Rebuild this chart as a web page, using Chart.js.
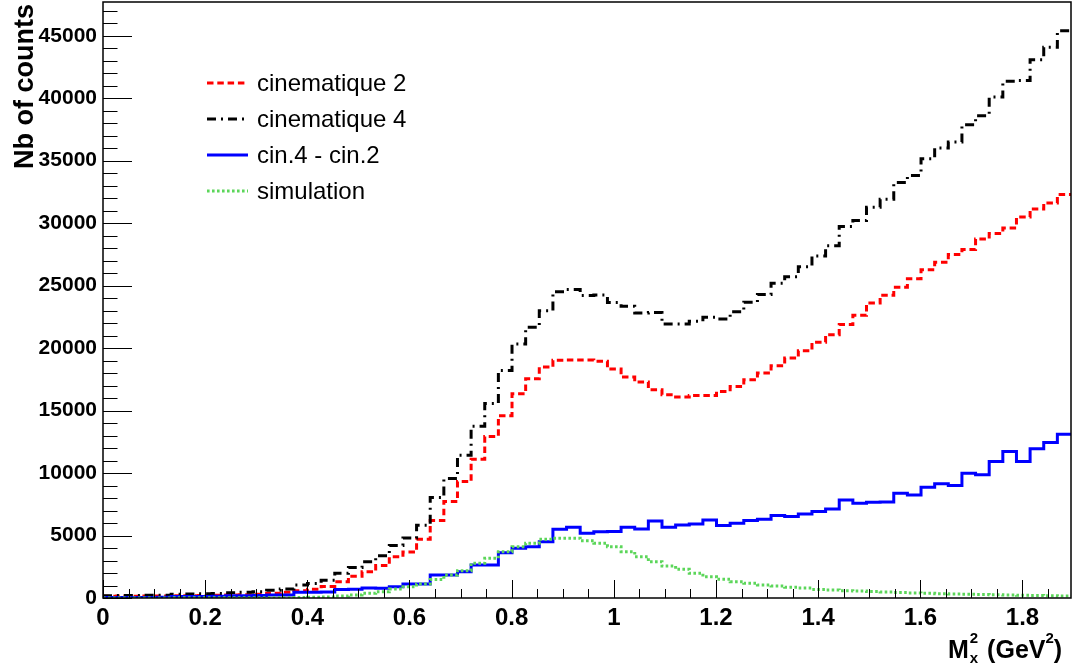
<!DOCTYPE html>
<html>
<head>
<meta charset="utf-8">
<script src="https://cdn.jsdelivr.net/npm/chart.js@4.4.0/dist/chart.umd.min.js"></script>
<style>
  html, body { margin: 0; padding: 0; background: #fff; }
</style>
</head>
<body>
<canvas id="chart" width="1076" height="670"></canvas>
<script>
// histogram binning (71 bins over the visible range)
const xMin = 0;
const xMax = 1.895;
const nBins = 71;
const yMax = 47700;

const xTicks = [0, 0.2, 0.4, 0.6, 0.8, 1, 1.2, 1.4, 1.6, 1.8];
const yTicks = [0, 5000, 10000, 15000, 20000, 25000, 30000, 35000, 40000, 45000];

const legendLabels = ['cinematique 2', 'cinematique 4', 'cin.4 - cin.2', 'simulation'];

// bin contents
const cin2 = [150, 160, 150, 170, 160, 180, 190, 210, 220, 240, 270, 300, 380, 470, 580, 700, 930, 1300, 1750, 2100,
    2600, 3300, 3690, 4700, 6200, 7720, 9320, 11110, 12930, 14580, 16350, 17550, 18480, 19020, 19040, 19040, 18940, 18320,
    17680, 17280, 16670, 16270, 16080, 16210, 16210, 16530, 16930, 17470, 18000, 18590, 19200, 19790, 20460, 21060, 21880,
    22620, 23610, 24230, 24870, 25560, 26280, 26870, 27490, 27890, 28740, 29170, 29620, 30500, 31140, 31620, 32290];

const cin4 = [190, 200, 200, 220, 220, 300, 320, 340, 360, 420, 460, 500, 620, 720, 1040, 1170, 1420, 1990, 2450, 2900,
    3390, 4210, 4810, 5820, 8040, 9560, 11430, 13750, 15570, 18210, 20330, 21660, 22990, 24520, 24700, 24220, 24250, 23640,
    23340, 22810, 22840, 21930, 21930, 22140, 22460, 22330, 22910, 23670, 24300, 25190, 25720, 26520, 27380, 28190, 29730,
    30210, 31270, 31920, 33260, 33810, 35150, 36010, 36490, 37880, 38600, 40090, 41350, 41420, 43080, 44070, 45400];

const diff = [40, 40, 50, 50, 60, 120, 130, 130, 140, 180, 190, 200, 240, 250, 460, 470, 490, 690, 700, 800,
    790, 910, 1120, 1120, 1840, 1840, 2110, 2640, 2640, 3630, 3980, 4110, 4510, 5500, 5660, 5180, 5310, 5320,
    5660, 5530, 6170, 5660, 5850, 5930, 6250, 5800, 5980, 6200, 6300, 6600, 6520, 6730, 6920, 7130, 7850,
    7590, 7660, 7690, 8390, 8250, 8870, 9140, 9000, 9990, 9860, 10920, 11730, 10920, 11940, 12450, 13110];

const simu = [10, 10, 10, 10, 10, 15, 15, 15, 20, 20, 25, 25, 30, 30, 40, 60, 90, 160, 250, 380,
    500, 720, 900, 1120, 1480, 1840, 2190, 2780, 3180, 3710, 4110, 4380, 4700, 4780, 4780, 4590, 4380, 4110,
    3710, 3310, 2910, 2560, 2300, 1980, 1710, 1500, 1310, 1180, 1040, 960, 860, 800, 690, 640, 590,
    560, 520, 480, 440, 410, 380, 350, 320, 300, 280, 260, 240, 220, 200, 190, 170];

const FONT = '"Liberation Sans", Arial, sans-serif';

function histPoints(values) {
    const w = (xMax - xMin) / nBins;
    const pts = values.map((v, i) => ({ x: xMin + i * w, y: v }));
    pts.push({ x: xMax, y: values[values.length - 1] });
    return pts;
}

// frame + inward ticks, ROOT style
const frameTicks = {
    id: 'frameTicks',
    afterDraw(chart) {
        const { ctx, chartArea: a, scales: { x, y } } = chart;
        ctx.save();
        ctx.strokeStyle = '#000';
        ctx.lineWidth = 1;
        ctx.beginPath();
        for (let v = 0; v <= yMax; v += 1000) {
            const py = Math.round(y.getPixelForValue(v)) + 0.5;
            const len = v % 5000 === 0 ? 29 : 14.5;
            ctx.moveTo(a.left, py);
            ctx.lineTo(a.left + len, py);
        }
        for (let i = 0; i * 0.05 <= xMax + 1e-9; i++) {
            const px = Math.round(x.getPixelForValue(i * 0.05)) + 0.5;
            const len = i % 4 === 0 ? 18 : 9;
            ctx.moveTo(px, a.bottom);
            ctx.lineTo(px, a.bottom - len);
        }
        ctx.stroke();
        ctx.lineWidth = 1.5;
        ctx.strokeRect(a.left, a.top, a.right - a.left, a.bottom - a.top);
        ctx.restore();
    }
};

const boxLegend = {
    id: 'boxLegend',
    afterDraw(chart) {
        const ctx = chart.ctx;
        ctx.save();
        chart.data.datasets.forEach((ds, i) => {
            const ly = 83 + i * 36;
            ctx.strokeStyle = ds.borderColor;
            ctx.lineWidth = ds.borderWidth;
            ctx.setLineDash(ds.borderDash || []);
            ctx.beginPath();
            ctx.moveTo(207, ly);
            ctx.lineTo(248, ly);
            ctx.stroke();
            ctx.setLineDash([]);
            ctx.fillStyle = '#000';
            ctx.font = '24px ' + FONT;
            ctx.textBaseline = 'middle';
            ctx.textAlign = 'left';
            ctx.fillText(ds.label, 257, ly + 1);
        });
        ctx.restore();
    }
};

// axis titles: ROOT puts them at the far end of each axis
const axisTitles = {
    id: 'axisTitles',
    afterDraw(chart) {
        const ctx = chart.ctx;
        const big = 'bold 25px ' + FONT;
        const small = 'bold 15px ' + FONT;
        ctx.save();
        ctx.fillStyle = '#000';
        ctx.textBaseline = 'alphabetic';

        // y title
        ctx.save();
        ctx.translate(33, 4);
        ctx.rotate(-Math.PI / 2);
        ctx.textAlign = 'right';
        ctx.font = 'bold 27px ' + FONT;
        ctx.fillText('Nb of counts', 0, 0);
        ctx.restore();

        // x title
        const base = 658;
        let x = 948;
        ctx.textAlign = 'left';
        ctx.font = big;
        ctx.fillText('M', x, base);
        x += ctx.measureText('M').width + 1;
        ctx.font = small;
        ctx.fillText('2', x, base - 15);
        ctx.fillText('x', x, base + 5);
        x += ctx.measureText('x').width + 2;
        ctx.font = big;
        ctx.fillText(' (GeV', x, base);
        x += ctx.measureText(' (GeV').width;
        ctx.font = small;
        ctx.fillText('2', x, base - 15);
        x += ctx.measureText('2').width;
        ctx.font = big;
        ctx.fillText(')', x, base);
        ctx.restore();
    }
};

const series = [
    { label: legendLabels[0], values: cin2, color: '#ff0000', dash: [6.5, 3.8], order: 4 },
    { label: legendLabels[1], values: cin4, color: '#000000', dash: [9, 5, 2, 5], order: 3 },
    { label: legendLabels[2], values: diff, color: '#0000ff', dash: [], order: 2 },
    { label: legendLabels[3], values: simu, color: '#5cd65a', dash: [2.6, 2.4], order: 1 }
];

new Chart(document.getElementById('chart'), {
    type: 'line',
    data: {
        datasets: series.map(s => ({
            label: s.label,
            data: histPoints(s.values),
            borderColor: s.color,
            borderWidth: 3,
            borderDash: s.dash,
            stepped: 'before',
            pointRadius: 0,
            fill: false,
            order: s.order
        }))
    },
    options: {
        responsive: false,
        animation: false,
        devicePixelRatio: 1,
        layout: { padding: { left: 0, top: 2, right: 5, bottom: 0 } },
        plugins: { legend: { display: false }, tooltip: { enabled: false } },
        scales: {
            x: {
                type: 'linear',
                min: xMin,
                max: xMax,
                grid: { display: false, drawTicks: false },
                border: { display: false },
                afterBuildTicks: s => { s.ticks = xTicks.map(v => ({ value: v })); },
                ticks: {
                    autoSkip: false,
                    maxRotation: 0,
                    padding: 6,
                    color: '#000',
                    font: { family: FONT, size: 24, weight: 'bold' },
                    callback: v => String(+v.toFixed(1))
                },
                afterFit: s => {
                    s.height = 72;
                    s.paddingLeft = 0;
                    s.paddingRight = 0;
                }
            },
            y: {
                type: 'linear',
                min: 0,
                max: yMax,
                grid: { display: false, drawTicks: false },
                border: { display: false },
                afterBuildTicks: s => { s.ticks = yTicks.map(v => ({ value: v })); },
                ticks: {
                    autoSkip: false,
                    padding: 6,
                    color: '#000',
                    font: { family: FONT, size: 21, weight: 'bold' },
                    callback: v => String(v)
                },
                afterFit: s => {
                    s.width = 103;
                    s.paddingTop = 0;
                    s.paddingBottom = 0;
                }
            }
        }
    },
    plugins: [frameTicks, boxLegend, axisTitles]
});
</script>
</body>
</html>
